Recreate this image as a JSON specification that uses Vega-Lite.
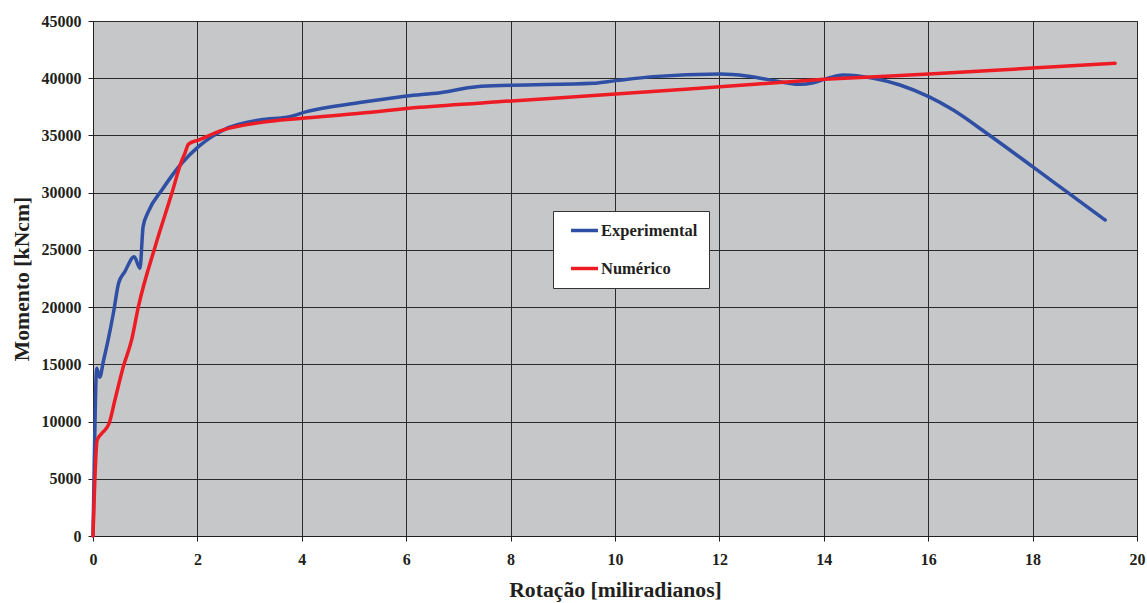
{
  "$schema": "https://vega.github.io/schema/vega-lite/v6.json",
  "width": 1044,
  "height": 515,
  "autosize": {"type": "none"},
  "padding": {"left": 93, "top": 21, "right": 10, "bottom": 67},
  "background": "white",
  "config": {
    "font": "Liberation Serif",
    "view": {"fill": "#C6C7C9", "stroke": "#333333", "strokeWidth": 1},
    "legend": {"strokeWidth": 1},
    "axis": {
      "labelFont": "Liberation Serif",
      "labelFontWeight": "bold",
      "labelFontSize": 16,
      "labelColor": "#231F20",
      "labelFlush": false,
      "titleFont": "Liberation Serif",
      "titleFontWeight": "bold",
      "titleFontSize": 21.7,
      "titleColor": "#231F20",
      "domainColor": "#231F20",
      "tickColor": "#231F20",
      "tickSize": 5,
      "gridColor": "#2A2A2A",
      "gridWidth": 1,
      "gridOpacity": 1
    }
  },
  "data": {
    "values": [
      {"serie": "Experimental", "x": 0.0, "y": 0},
      {"serie": "Experimental", "x": 0.03, "y": 8000},
      {"serie": "Experimental", "x": 0.07, "y": 14650},
      {"serie": "Experimental", "x": 0.13, "y": 13870},
      {"serie": "Experimental", "x": 0.2, "y": 15300},
      {"serie": "Experimental", "x": 0.29, "y": 17130},
      {"serie": "Experimental", "x": 0.39, "y": 19460},
      {"serie": "Experimental", "x": 0.49, "y": 22080},
      {"serie": "Experimental", "x": 0.61, "y": 23100},
      {"serie": "Experimental", "x": 0.79, "y": 24400},
      {"serie": "Experimental", "x": 0.9, "y": 23400},
      {"serie": "Experimental", "x": 0.96, "y": 27030},
      {"serie": "Experimental", "x": 1.06, "y": 28340},
      {"serie": "Experimental", "x": 1.32, "y": 30230},
      {"serie": "Experimental", "x": 1.7, "y": 32570},
      {"serie": "Experimental", "x": 2.02, "y": 34020},
      {"serie": "Experimental", "x": 2.5, "y": 35480},
      {"serie": "Experimental", "x": 3.2, "y": 36350},
      {"serie": "Experimental", "x": 3.77, "y": 36640},
      {"serie": "Experimental", "x": 4.09, "y": 37080},
      {"serie": "Experimental", "x": 5.11, "y": 37870},
      {"serie": "Experimental", "x": 6.01, "y": 38450},
      {"serie": "Experimental", "x": 6.65, "y": 38740},
      {"serie": "Experimental", "x": 7.35, "y": 39260},
      {"serie": "Experimental", "x": 8.02, "y": 39380},
      {"serie": "Experimental", "x": 9.58, "y": 39560},
      {"serie": "Experimental", "x": 10.01, "y": 39790},
      {"serie": "Experimental", "x": 10.73, "y": 40140},
      {"serie": "Experimental", "x": 12.01, "y": 40370},
      {"serie": "Experimental", "x": 12.52, "y": 40200},
      {"serie": "Experimental", "x": 12.91, "y": 39900},
      {"serie": "Experimental", "x": 13.54, "y": 39470},
      {"serie": "Experimental", "x": 13.8, "y": 39610},
      {"serie": "Experimental", "x": 14.01, "y": 39900},
      {"serie": "Experimental", "x": 14.37, "y": 40280},
      {"serie": "Experimental", "x": 14.95, "y": 39990},
      {"serie": "Experimental", "x": 15.46, "y": 39410},
      {"serie": "Experimental", "x": 16.01, "y": 38390},
      {"serie": "Experimental", "x": 16.48, "y": 37220},
      {"serie": "Experimental", "x": 17.12, "y": 35190},
      {"serie": "Experimental", "x": 18.0, "y": 32270},
      {"serie": "Experimental", "x": 18.65, "y": 30090},
      {"serie": "Experimental", "x": 19.39, "y": 27610},
      {"serie": "Numérico", "x": 0.0, "y": 0},
      {"serie": "Numérico", "x": 0.08, "y": 8390},
      {"serie": "Numérico", "x": 0.17, "y": 8970},
      {"serie": "Numérico", "x": 0.31, "y": 9850},
      {"serie": "Numérico", "x": 0.42, "y": 11880},
      {"serie": "Numérico", "x": 0.58, "y": 14790},
      {"serie": "Numérico", "x": 0.74, "y": 17130},
      {"serie": "Numérico", "x": 0.87, "y": 20040},
      {"serie": "Numérico", "x": 1.19, "y": 25280},
      {"serie": "Numérico", "x": 1.51, "y": 29940},
      {"serie": "Numérico", "x": 1.7, "y": 32800},
      {"serie": "Numérico", "x": 1.76, "y": 33440},
      {"serie": "Numérico", "x": 1.83, "y": 34250},
      {"serie": "Numérico", "x": 2.02, "y": 34600},
      {"serie": "Numérico", "x": 2.5, "y": 35480},
      {"serie": "Numérico", "x": 3.2, "y": 36120},
      {"serie": "Numérico", "x": 4.01, "y": 36500},
      {"serie": "Numérico", "x": 5.11, "y": 36930},
      {"serie": "Numérico", "x": 6.26, "y": 37460},
      {"serie": "Numérico", "x": 8.02, "y": 38010},
      {"serie": "Numérico", "x": 10.01, "y": 38620},
      {"serie": "Numérico", "x": 12.01, "y": 39260},
      {"serie": "Numérico", "x": 14.01, "y": 39900},
      {"serie": "Numérico", "x": 16.01, "y": 40370},
      {"serie": "Numérico", "x": 18.0, "y": 40890},
      {"serie": "Numérico", "x": 19.58, "y": 41300}
    ]
  },
  "mark": {"type": "line", "strokeWidth": 3.5, "interpolate": "monotone", "strokeCap": "round"},
  "encoding": {
    "x": {
      "field": "x", "type": "quantitative",
      "scale": {"domain": [0, 20], "nice": false},
      "axis": {"values": [0,2,4,6,8,10,12,14,16,18,20], "title": "Rotação [miliradianos]", "labelPadding": 10, "titlePadding": 12, "grid": true}
    },
    "y": {
      "field": "y", "type": "quantitative",
      "scale": {"domain": [0, 45000], "nice": false},
      "axis": {"values": [0,5000,10000,15000,20000,25000,30000,35000,40000,45000], "title": "Momento [kNcm]", "labelPadding": 7, "titlePadding": 8, "grid": true, "format": "d"}
    },
    "color": {
      "field": "serie", "type": "nominal",
      "scale": {"domain": ["Experimental", "Numérico"], "range": ["#2E4FA3", "#ED1C24"]},
      "legend": {
        "title": null,
        "orient": "none",
        "legendX": 460,
        "legendY": 190,
        "symbolType": "M-2,0H2",
        "symbolSize": 182.25,
        "symbolStrokeWidth": 3.5,
        "symbolOffset": 12,
        "labelFont": "Liberation Serif",
        "labelFontWeight": "bold",
        "labelFontSize": 16.5,
        "labelColor": "#231F20",
        "labelOffset": 8,
        "rowPadding": 21,
        "padding": 11,
        "fillColor": "white",
        "strokeColor": "#333333"
      }
    }
  }
}
